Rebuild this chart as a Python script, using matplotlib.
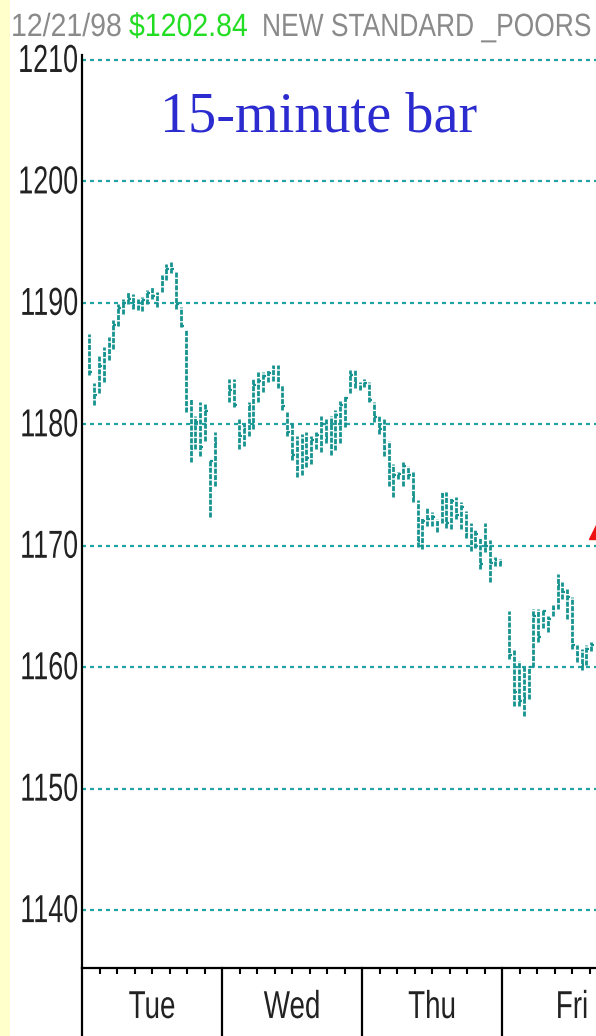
import numpy as np
import matplotlib
matplotlib.use("Agg")
import matplotlib.pyplot as plt
from matplotlib.patheffects import AbstractPathEffect
from matplotlib.transforms import Affine2D, blended_transform_factory, ScaledTranslation
from matplotlib.patches import Rectangle

# ---------------- data ----------------
days = ["Tue", "Wed", "Thu", "Fri"]
y_ticks = [1140, 1150, 1160, 1170, 1180, 1190, 1200, 1210]

tue_high = [1187.4, 1183.4, 1185.6, 1186.4, 1187.2, 1188.6, 1189.9, 1190.3, 1190.9, 1190.7,
            1190.3, 1190.5, 1191.1, 1191.3, 1190.9, 1192.3, 1193.2, 1193.4, 1192.6, 1189.7,
            1187.8, 1182.1, 1180.7, 1181.8, 1181.7, 1177.1, 1179.4]
tue_low = [1184.1, 1181.6, 1182.6, 1183.5, 1185.3, 1186.2, 1188.1, 1189.1, 1189.9, 1189.5,
           1189.4, 1189.3, 1189.9, 1190.3, 1189.7, 1190.9, 1191.9, 1192.5, 1189.5, 1188.0,
           1181.0, 1176.9, 1178.0, 1177.4, 1178.6, 1172.4, 1174.9]
tue_close = [1184.3, 1182.4, 1184.8, 1185.8, 1186.5, 1188.2, 1189.6, 1190.0, 1190.3, 1189.8,
             1189.7, 1190.2, 1190.8, 1190.6, 1190.7, 1192.0, 1192.8, 1192.8, 1189.9, 1188.1,
             1181.3, 1178.0, 1180.2, 1178.1, 1181.1, 1177.0, 1178.5]

wed_high = [1183.7, 1183.7, 1180.4, 1180.0, 1181.8, 1183.7, 1184.3, 1184.3, 1184.5, 1184.9,
            1184.9, 1183.2, 1181.0, 1180.2, 1179.0, 1179.2, 1179.4, 1179.0, 1179.4, 1180.7,
            1180.4, 1180.7, 1181.2, 1181.9, 1182.4, 1184.5, 1184.5, 1183.5]
wed_low = [1181.8, 1181.4, 1178.0, 1178.2, 1179.0, 1179.6, 1181.8, 1182.7, 1183.5, 1183.6,
           1183.0, 1181.2, 1179.0, 1177.1, 1175.7, 1175.8, 1176.5, 1176.7, 1178.0, 1177.7,
           1178.5, 1177.5, 1177.9, 1178.5, 1179.8, 1182.6, 1183.0, 1182.8]
wed_close = [1182.8, 1181.6, 1179.0, 1179.6, 1181.5, 1183.2, 1183.6, 1184.0, 1184.2, 1184.6,
             1183.2, 1181.5, 1179.4, 1177.5, 1176.5, 1178.6, 1177.2, 1178.7, 1179.1, 1180.0,
             1178.9, 1180.3, 1180.8, 1181.6, 1182.2, 1184.1, 1183.4, 1183.1]

thu_high = [1183.7, 1183.5, 1181.8, 1180.7, 1180.4, 1178.6, 1176.7, 1176.1, 1176.9, 1176.6,
            1176.1, 1173.8, 1172.4, 1173.2, 1172.8, 1172.2, 1174.5, 1174.4, 1174.0, 1174.0,
            1173.6, 1172.9, 1171.9, 1171.4, 1170.7, 1171.9, 1170.5, 1169.1, 1168.9]
thu_low = [1183.1, 1181.8, 1180.2, 1179.2, 1177.4, 1174.9, 1174.0, 1175.5, 1174.9, 1175.5,
           1173.6, 1169.9, 1169.7, 1171.6, 1171.6, 1171.1, 1171.9, 1171.5, 1171.4, 1172.2,
           1171.4, 1170.6, 1169.6, 1169.8, 1168.1, 1169.5, 1167.0, 1168.3, 1168.3]
thu_close = [1183.4, 1182.0, 1180.6, 1179.6, 1178.0, 1176.5, 1175.8, 1175.9, 1176.6, 1175.8,
             1174.0, 1170.4, 1172.0, 1172.2, 1172.4, 1171.9, 1174.2, 1171.9, 1173.7, 1172.5,
             1173.2, 1171.0, 1170.2, 1171.0, 1168.5, 1170.0, 1168.6, 1168.8, 1168.7]

fri_high = [1164.6, 1161.4, 1160.5, 1160.0, 1160.1, 1164.8, 1164.8, 1164.8, 1164.2, 1165.1,
            1167.7, 1167.0, 1166.4, 1165.8, 1161.8, 1161.5, 1161.8, 1162.1]
fri_low = [1160.7, 1156.8, 1156.8, 1156.0, 1157.4, 1160.0, 1162.1, 1163.2, 1162.9, 1164.2,
           1164.8, 1165.6, 1164.0, 1161.5, 1160.4, 1159.8, 1160.2, 1161.3]
fri_close = [1161.0, 1158.0, 1157.2, 1157.5, 1160.0, 1164.2, 1162.5, 1164.6, 1164.0, 1164.8,
             1166.8, 1166.2, 1165.8, 1161.8, 1161.0, 1160.2, 1161.5, 1161.8]

first_slot = [1, 1, 0, 1]      # first 15-minute slot used in each day
slots_per_day = 29
last_price_marker = 1171.3

header_date = "12/21/98"
header_price = "$1202.84"
header_name = "NEW STANDARD _POORS"
title_text = "15-minute bar"


# ---------------- helpers ----------------
class Stretch(AbstractPathEffect):
    """Stretch glyphs vertically about the baseline (text stays a real Text)."""
    def __init__(self, sy):
        super().__init__()
        self.sy = sy

    def draw_path(self, renderer, gc, tpath, affine, rgbFace=None):
        renderer.draw_path(gc, tpath, Affine2D().scale(1, self.sy) + affine, rgbFace)


W, H = 596, 1036
fig = plt.figure(figsize=(W / 100, H / 100), dpi=100)
fig.patch.set_facecolor("white")
fig.patches.append(Rectangle((0, 0), 10 / W, 1, transform=fig.transFigure,
                             facecolor="#ffffcc", edgecolor="none", zorder=0))

ax_left, ax_top, ax_bottom = 82, 55, 968
ax = fig.add_axes([ax_left / W, 1 - ax_bottom / H, 1 - ax_left / W, (ax_bottom - ax_top) / H])
ax.set_facecolor("white")

px_per_day = 140
xmax = (W - ax_left) / px_per_day
ymin = 1140 - (ax_bottom - 910) / 12.17
ymax = 1210 + (60 - ax_top) / 12.17

for s in ["top", "right"]:
    ax.spines[s].set_visible(False)
ax.spines["left"].set_linewidth(1.6)
ax.spines["bottom"].set_linewidth(1.6)

grid_col = "#22a3a3"
for yv in y_ticks:
    ax.axhline(yv, color=grid_col, lw=1.6, linestyle=(0, (1.8, 1.8)), zorder=1)

bar_col = "#17938f"
highs = [tue_high, wed_high, thu_high, fri_high]
lows = [tue_low, wed_low, thu_low, fri_low]
closes = [tue_close, wed_close, thu_close, fri_close]
for d in range(4):
    n = len(highs[d])
    x = d + (first_slot[d] + np.arange(n) + 0.5) / slots_per_day
    ax.vlines(x, lows[d], highs[d], colors=bar_col, lw=2.0,
              linestyles=(0, (1.8, 0.5)), zorder=3)
    ax.hlines(closes[d], x, x + 0.55 / slots_per_day, colors=bar_col, lw=1.6, zorder=3)

ax.plot([(W + 2 - ax_left) / px_per_day], [last_price_marker], marker="^", ms=13,
        color="#ee1111", clip_on=False, zorder=5)

# y tick labels (drawn as baseline-anchored texts)
ax.set_yticks([])
lab_trans = ax.get_yaxis_transform() + ScaledTranslation(-4 / 100, -12 / 100, fig.dpi_scale_trans)
for v in y_ticks:
    ax.text(0, v, str(v), transform=lab_trans, ha="right", va="baseline",
            fontsize=19.4, family="Liberation Sans", color="#222222",
            path_effects=[Stretch(1.45)], clip_on=False)

# x ticks
ax.set_xticks([])
minor = [k / 8 for k in range(1, 30) if k % 8 != 0]
ax.set_xticks(minor, minor=True)
ax.set_xticklabels([], minor=True)
ax.tick_params(axis="x", which="minor", length=4, width=1.5, direction="out", color="black")
ax.set_xlim(0, xmax)
ax.set_ylim(ymin, ymax)

trans = blended_transform_factory(ax.transData, ax.transAxes)
axh = ax_bottom - ax_top
for d in range(4):
    ax.plot([d, d], [0, -(H - ax_bottom) / axh], color="black", lw=1.6,
            transform=trans, clip_on=False, zorder=4)
    ax.text(d + 0.5, -(1018 - ax_bottom) / axh, days[d], transform=trans,
            ha="center", va="baseline", fontsize=20, family="Liberation Sans",
            color="#222222", path_effects=[Stretch(1.4)], clip_on=False)

# header
hy = 1 - 36 / H
fig.text(11 / W, hy, header_date, ha="left", va="baseline", fontsize=20.5,
         family="Liberation Sans", color="#8a8a8a", path_effects=[Stretch(1.13)])
fig.text(129 / W, hy, header_price, ha="left", va="baseline", fontsize=20.5,
         family="Liberation Sans", color="#22dd22", path_effects=[Stretch(1.13)])
fig.text(262 / W, hy, header_name, ha="left", va="baseline", fontsize=19.0,
         family="Liberation Sans", color="#8a8a8a", path_effects=[Stretch(1.22)])

# title
fig.text(160 / W, 1 - 131 / H, title_text, ha="left", va="baseline", fontsize=40.5,
         family="Liberation Serif", color="#2b2bd0")

fig.savefig("out.png", dpi=100)
